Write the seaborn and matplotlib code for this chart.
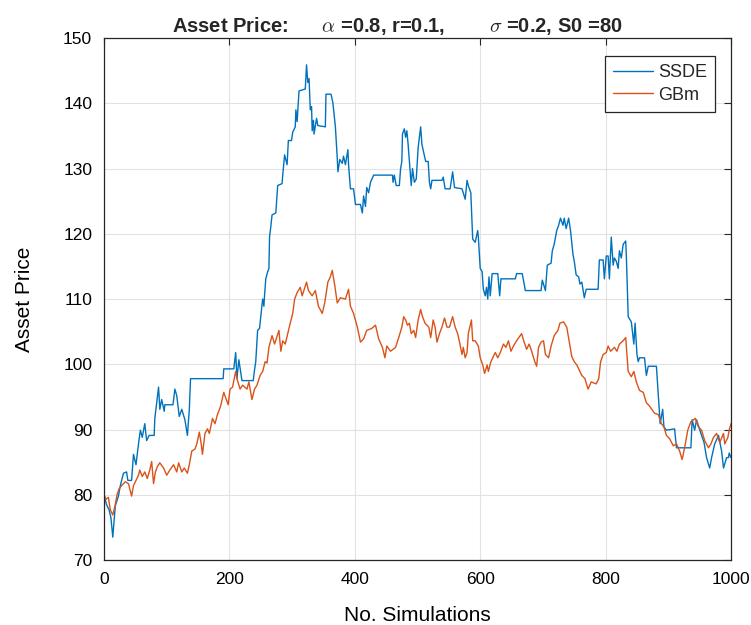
import seaborn as sns
import matplotlib
matplotlib.use("Agg")
import matplotlib.pyplot as plt

# values
ssde_x = [0, 4, 8, 11, 14, 18, 23, 26, 31, 36, 38, 44, 47, 51, 55, 58, 61, 65, 68, 72, 80, 81, 84, 87, 89, 92, 96, 97, 110,
          113, 116, 120, 124, 129, 133, 136, 138, 190, 191, 207, 210, 212, 215, 220, 238, 240, 242, 245, 248, 253, 255, 256,
          258, 261, 263, 264, 266, 268, 274, 277, 284, 285, 288, 292, 294, 299, 301, 305, 306, 308, 311, 321, 323, 325, 327,
          329, 331, 332, 334, 335, 339, 341, 353, 354, 362, 365, 369, 372, 373, 376, 380, 382, 385, 389, 390, 393, 398, 401,
          409, 412, 414, 417, 419, 422, 425, 430, 460, 461, 463, 466, 471, 473, 475, 476, 479, 481, 483, 485, 487, 489, 490,
          492, 495, 498, 501, 505, 507, 513, 517, 519, 521, 523, 539, 541, 544, 552, 556, 559, 571, 576, 579, 581, 585, 588,
          592, 596, 597, 600, 603, 605, 608, 610, 612, 614, 616, 619, 628, 631, 633, 656, 658, 667, 672, 697, 699, 704, 707,
          713, 715, 718, 722, 725, 728, 732, 734, 737, 741, 744, 748, 750, 753, 757, 759, 762, 766, 769, 788, 790, 796, 798,
          801, 804, 806, 809, 812, 814, 817, 820, 822, 825, 828, 832, 833, 836, 841, 845, 847, 850, 852, 854, 862, 865, 868,
          881, 884, 887, 891, 893, 897, 910, 913, 936, 938, 942, 945, 953, 957, 961, 966, 969, 974, 980, 985, 988, 993, 996,
          997, 1000]
ssde_y = [80.0, 78.5, 77.7, 76.5, 73.5, 78.3, 79.8, 81.4, 83.3, 83.5, 82.2, 82.2, 86.2, 84.6, 87.8, 89.9, 88.8, 90.9, 88.3,
          89.1, 89.1, 91.7, 94.1, 96.5, 93.1, 94.6, 92.8, 93.8, 93.8, 96.2, 95.2, 92.0, 93.1, 91.5, 89.1, 93.0, 97.8, 97.8,
          99.3, 99.3, 101.8, 97.8, 100.7, 97.5, 97.5, 99.1, 100.4, 105.2, 105.5, 110.0, 108.9, 110.5, 113.1, 114.2, 114.7,
          119.5, 121.1, 122.9, 123.2, 127.4, 127.7, 129.0, 132.1, 130.6, 134.3, 134.3, 135.6, 136.4, 139.0, 137.2, 141.9,
          142.2, 145.9, 143.2, 143.8, 139.0, 139.5, 135.8, 137.4, 135.3, 137.7, 136.6, 136.4, 141.4, 141.4, 140.1, 136.4,
          131.6, 129.5, 131.4, 130.8, 131.9, 130.6, 132.9, 130.6, 126.9, 126.9, 124.5, 124.5, 123.2, 125.8, 124.2, 127.1,
          126.3, 127.9, 129.0, 129.0, 127.9, 129.0, 127.4, 127.4, 130.0, 131.1, 135.3, 136.1, 134.8, 135.8, 133.7, 131.1,
          128.4, 127.4, 130.0, 127.9, 128.4, 133.2, 136.4, 133.7, 131.1, 131.1, 127.9, 126.9, 128.2, 128.2, 128.7, 126.9,
          126.9, 129.5, 127.1, 126.9, 125.3, 128.2, 127.4, 126.3, 119.2, 118.7, 120.5, 119.5, 114.7, 114.2, 111.5, 110.5,
          111.8, 110.0, 113.4, 110.5, 113.9, 113.9, 110.5, 113.1, 113.1, 113.9, 113.9, 111.3, 111.3, 112.9, 111.3, 115.2,
          115.5, 117.4, 118.4, 120.5, 121.3, 122.4, 121.3, 122.4, 120.8, 122.4, 120.5, 116.8, 115.8, 113.7, 113.4, 112.3,
          112.6, 110.2, 111.5, 111.5, 116.0, 116.0, 113.1, 116.6, 116.6, 113.1, 119.5, 115.2, 116.3, 115.8, 114.7, 117.4,
          116.3, 118.4, 118.9, 116.8, 107.3, 106.5, 103.1, 106.3, 101.5, 100.4, 101.0, 101.0, 98.3, 99.7, 99.7, 95.2, 90.9,
          93.1, 90.4, 89.9, 90.1, 87.2, 87.2, 91.5, 89.9, 91.5, 89.1, 88.0, 85.7, 84.1, 85.7, 87.8, 89.1, 86.7, 84.1, 85.7,
          85.7, 86.4, 85.7]

gbm_x = [0, 3, 7, 10, 14, 18, 21, 24, 28, 34, 39, 44, 47, 51, 55, 57, 61, 65, 69, 73, 76, 79, 82, 85, 89, 95, 100, 105,
         111, 116, 119, 124, 128, 133, 136, 140, 145, 148, 152, 155, 157, 161, 165, 168, 173, 177, 181, 186, 191, 198, 201,
         205, 210, 212, 217, 221, 228, 231, 236, 240, 244, 249, 253, 257, 260, 263, 268, 272, 279, 282, 285, 289, 293, 297,
         301, 304, 308, 313, 316, 323, 326, 332, 337, 342, 348, 352, 357, 361, 364, 368, 372, 377, 385, 390, 393, 398, 404,
         409, 414, 419, 427, 433, 438, 444, 448, 451, 457, 465, 470, 475, 478, 481, 484, 487, 490, 494, 497, 501, 505, 508,
         512, 518, 521, 525, 528, 531, 535, 539, 543, 547, 551, 556, 560, 564, 567, 571, 573, 576, 579, 581, 586, 588, 592,
         597, 600, 604, 607, 611, 613, 617, 624, 628, 632, 637, 641, 645, 649, 653, 658, 666, 670, 674, 678, 682, 687, 690,
         693, 697, 701, 704, 709, 713, 718, 724, 727, 733, 738, 742, 746, 750, 754, 758, 762, 767, 772, 777, 785, 789, 792,
         796, 801, 804, 808, 814, 818, 822, 828, 832, 836, 841, 845, 849, 854, 860, 865, 870, 878, 884, 889, 893, 897, 902,
         908, 913, 918, 922, 926, 931, 936, 940, 943, 948, 953, 958, 964, 968, 972, 977, 982, 988, 990, 995, 997, 1000]
gbm_y = [80.0, 79.3, 79.6, 77.7, 76.9, 78.5, 80.1, 80.9, 81.4, 82.0, 81.7, 79.8, 81.4, 82.2, 83.0, 83.8, 82.8, 83.5, 82.5,
         83.8, 85.1, 81.7, 83.5, 84.3, 84.9, 84.1, 83.0, 83.8, 84.6, 83.5, 84.9, 83.5, 84.1, 83.3, 84.6, 86.7, 87.0, 87.8,
         89.6, 87.8, 86.2, 89.4, 90.1, 89.4, 91.7, 90.9, 92.3, 93.6, 95.7, 93.8, 96.2, 96.5, 98.9, 97.8, 96.2, 96.8, 96.2,
         97.3, 94.6, 96.2, 96.8, 98.3, 98.9, 100.4, 100.2, 102.6, 104.4, 103.1, 105.2, 102.0, 103.6, 103.1, 104.7, 106.3,
         107.8, 110.0, 111.0, 111.8, 110.5, 112.6, 111.3, 110.5, 111.3, 108.9, 107.8, 109.4, 112.6, 113.4, 114.4, 112.1,
         109.4, 110.2, 110.0, 111.5, 108.9, 107.8, 105.7, 103.4, 103.9, 105.2, 105.5, 106.0, 103.9, 102.6, 101.0, 102.8,
         102.0, 102.6, 104.1, 105.7, 107.3, 106.8, 106.0, 106.3, 104.7, 105.2, 104.1, 106.8, 108.4, 107.3, 106.3, 105.7,
         104.1, 106.8, 105.7, 103.4, 104.7, 105.7, 107.1, 105.7, 105.7, 107.3, 105.7, 104.7, 103.4, 101.5, 102.6, 101.0,
         101.8, 104.7, 106.8, 103.6, 103.6, 102.8, 101.0, 99.9, 98.6, 99.9, 98.9, 100.4, 101.8, 101.0, 101.8, 103.1, 102.6,
         103.6, 102.0, 102.8, 103.6, 104.7, 103.4, 102.3, 103.1, 102.0, 100.4, 99.7, 102.6, 103.4, 103.6, 101.5, 101.0,
         102.8, 104.4, 105.2, 106.3, 106.5, 105.7, 103.4, 101.2, 100.4, 99.9, 99.1, 98.3, 97.8, 96.2, 97.3, 97.0, 97.8,
         100.4, 101.5, 101.8, 102.8, 102.0, 102.6, 102.0, 103.1, 103.6, 104.1, 98.9, 98.1, 98.9, 97.3, 96.0, 95.7, 94.1,
         93.6, 92.5, 92.3, 90.9, 90.4, 89.1, 88.6, 87.5, 87.8, 86.7, 85.4, 87.2, 89.9, 91.2, 91.5, 91.7, 90.4, 89.9, 88.3,
         87.2, 87.8, 88.8, 89.4, 88.0, 89.4, 87.8, 88.8, 89.9, 90.9]

x_ticks = [0, 200, 400, 600, 800, 1000]
y_ticks = [70, 80, 90, 100, 110, 120, 130, 140, 150]

sns.set_theme(style="whitegrid")
plt.rcParams['font.family'] = ['Liberation Sans', 'DejaVu Sans']
plt.rcParams['mathtext.fontset'] = 'cm'

fig = plt.figure(figsize=(7.51, 6.25), dpi=100)
ax = fig.add_axes([0.1385, 0.104, 0.8349, 0.835])

sns.lineplot(x=ssde_x, y=ssde_y, estimator=None, sort=False, color='#0072BD', lw=1.0, label='SSDE', ax=ax)
sns.lineplot(x=gbm_x, y=gbm_y, estimator=None, sort=False, color='#D95319', lw=1.0, label='GBm', ax=ax)

ax.set_xlim(0, 1000)
ax.set_ylim(70, 150)
ax.set_xticks(x_ticks)
ax.set_yticks(y_ticks)
ax.set_facecolor('white')
ax.grid(True, color='#e2e2e2', lw=0.8)
for s in ax.spines.values():
    s.set_visible(True)
    s.set_color('#262626')
    s.set_linewidth(0.9)
ax.tick_params(direction='in', length=5, width=0.8, color='#262626', labelsize=12.5,
               labelcolor='black', top=True, right=True, pad=8.5)

ax.set_xlabel('No. Simulations', fontsize=15, labelpad=14, color='black')
ax.set_ylabel('Asset Price', fontsize=15, labelpad=21, color='black')
ax.set_title(r'Asset Price:      $\alpha$ =0.8, r=0.1,        $\sigma$ =0.2, S0 =80',
             fontsize=14.5, fontweight='bold', pad=4.5, x=0.468)

leg = ax.legend(loc='upper right', bbox_to_anchor=(0.9746, 0.9655), fontsize=13, fancybox=False,
                framealpha=1, edgecolor='#262626', handlelength=2.2, borderpad=0.45, labelspacing=0.3,
                handletextpad=0.3, borderaxespad=0)
leg.get_frame().set_linewidth(0.9)

fig.savefig('out.png', dpi=100)
